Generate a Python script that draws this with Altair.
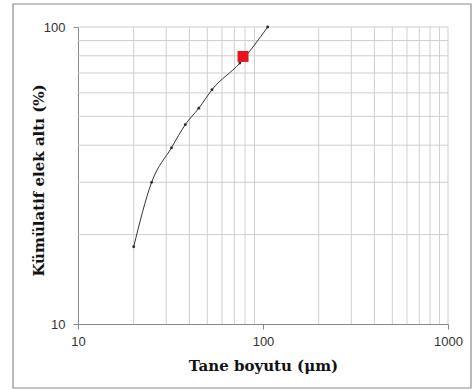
import altair as alt
import pandas as pd

size_um = [20, 25, 32, 38, 45, 53, 75, 106]
cum_pct = [18.2, 30, 39.2, 46.9, 53.3, 61.5, 75.6, 100]
marker_x = [78]
marker_y = [79.6]
x_grid = [20, 30, 40, 50, 60, 70, 80, 90, 200, 300, 400, 500, 600, 700, 800, 900, 1000]
y_grid = [20, 30, 40, 50, 60, 70, 80, 90, 100]

df = pd.DataFrame({"x": size_um, "y": cum_pct})
dm = pd.DataFrame({"x": marker_x, "y": marker_y})
dgx = pd.DataFrame({"x": x_grid})
dgy = pd.DataFrame({"y": y_grid})

FONT = "DejaVu Serif"
LFONT = "Liberation Sans"
xs = alt.Scale(type="log", domain=[10, 1000], nice=False)
ys = alt.Scale(type="log", domain=[10, 100], nice=False)
GRID = "#cfcfcf"

xaxis = alt.Axis(values=[10, 100, 1000], format="d", grid=False,
                 title="Tane boyutu (μm)", titleFont=FONT, titleFontSize=15,
                 titleFontWeight="bold", titleColor="#111111", titlePadding=10,
                 labelFont=LFONT, labelFontSize=13, labelColor="#333333",
                 labelFlush=False, labelBound=False,
                 labelPadding=6, tickSize=5, tickColor="#888888",
                 domainColor="#888888")
yaxis = alt.Axis(values=[10, 100], format="d", grid=False,
                 title="Kümülatif elek altı (%)", titleFont=FONT, titleFontSize=15,
                 titleFontWeight="bold", titleColor="#111111",
                 titleX=-32, titleY=153,
                 labelFont=LFONT, labelFontSize=13, labelColor="#333333",
                 labelFlush=False, labelBound=False,
                 labelPadding=8, tickSize=5, tickColor="#888888",
                 domainColor="#888888")

frame = alt.Chart(pd.DataFrame({"a": [0]})).mark_rect(
    fill=None, stroke="#8c8c8c", strokeWidth=1.2
).encode(x=alt.value(-65), x2=alt.value(393), y=alt.value(-23), y2=alt.value(361))

gx = alt.Chart(dgx).mark_rule(color=GRID, strokeWidth=1).encode(
    x=alt.X("x:Q", scale=xs, axis=xaxis)
)
gy = alt.Chart(dgy).mark_rule(color=GRID, strokeWidth=1).encode(
    y=alt.Y("y:Q", scale=ys, axis=yaxis)
)

line = alt.Chart(df).mark_line(
    color="#333333", strokeWidth=1, interpolate="monotone",
    point=alt.OverlayMarkDef(filled=True, color="#2b2b1b", size=8)
).encode(
    x=alt.X("x:Q", scale=xs, axis=xaxis),
    y=alt.Y("y:Q", scale=ys, axis=yaxis),
)

mk = alt.Chart(dm).mark_square(color="#e8141b", size=120, opacity=1).encode(
    x=alt.X("x:Q", scale=xs, axis=xaxis), y=alt.Y("y:Q", scale=ys, axis=yaxis)
)

chart = alt.layer(frame, gx, gy, line, mk).properties(
    width=370, height=297,
    autosize=alt.AutoSizeParams(type="none"),
    padding={"left": 78, "top": 27, "right": 26, "bottom": 66},
    background="white",
).configure_view(stroke=None)

chart.save("out.html", embed_options={"renderer": "svg", "actions": False})
